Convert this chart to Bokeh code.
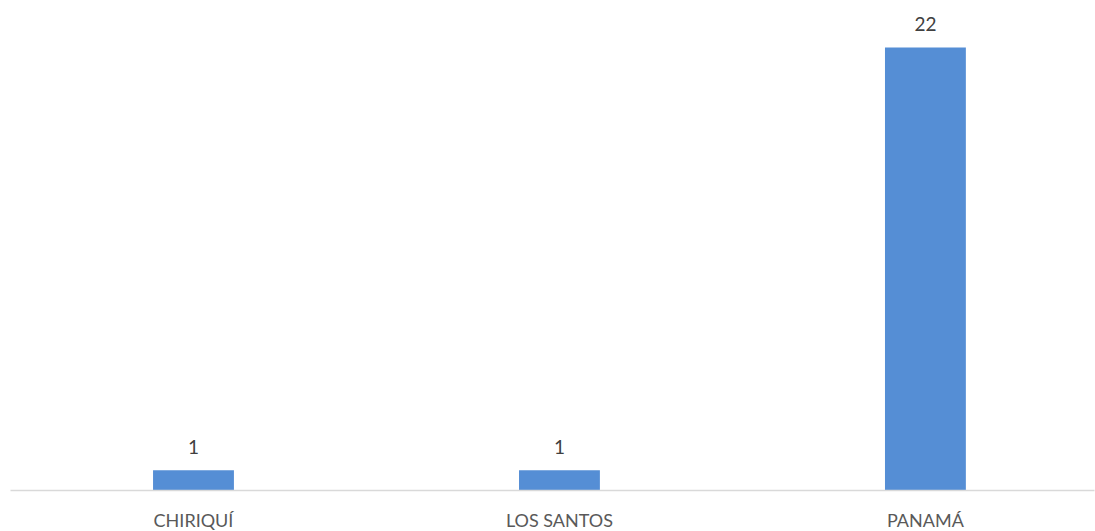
from bokeh.plotting import figure
from bokeh.models import ColumnDataSource, Range1d, FixedTicker
from bokeh.embed import file_html
from bokeh.resources import INLINE
from bokeh.core.properties import value

categories = ["CHIRIQUÍ", "LOS SANTOS", "PANAMÁ"]
counts = [1, 1, 22]

xpos = [i + 0.5 for i in range(len(categories))]
src = ColumnDataSource(dict(x=xpos, top=counts, lbl=[str(c) for c in counts]))

p = figure(frame_width=1084, frame_height=490, output_backend="svg", toolbar_location=None,
           x_range=Range1d(0.0, 2.962), y_range=Range1d(0, 24.33),
           min_border_left=10, min_border_right=1, min_border_top=0, min_border_bottom=0)
p.outline_line_color = None
p.xgrid.visible = False
p.ygrid.visible = False
p.yaxis.visible = False

p.vbar(x="x", top="top", width=0.221, bottom=0, source=src, color="#558ED5", line_color=None)
p.text(x="x", y="top", text="lbl", source=src, text_align="center", text_baseline="alphabetic",
       y_offset=-23, text_font=value("Lato"), text_font_size="19px", text_color="#404040")

ax = p.xaxis[0]
ax.ticker = FixedTicker(ticks=xpos)
ax.major_label_overrides = {x: c for x, c in zip(xpos, categories)}
ax.axis_line_color = "#D9D9D9"
ax.axis_line_width = 1.5
ax.major_tick_line_color = None
ax.minor_tick_line_color = None
ax.major_label_standoff = 12
ax.major_label_text_font = "Lato"
ax.major_label_text_font_size = "18px"
ax.major_label_text_color = "#595959"

open("out.html", "w").write(file_html(p, INLINE))
